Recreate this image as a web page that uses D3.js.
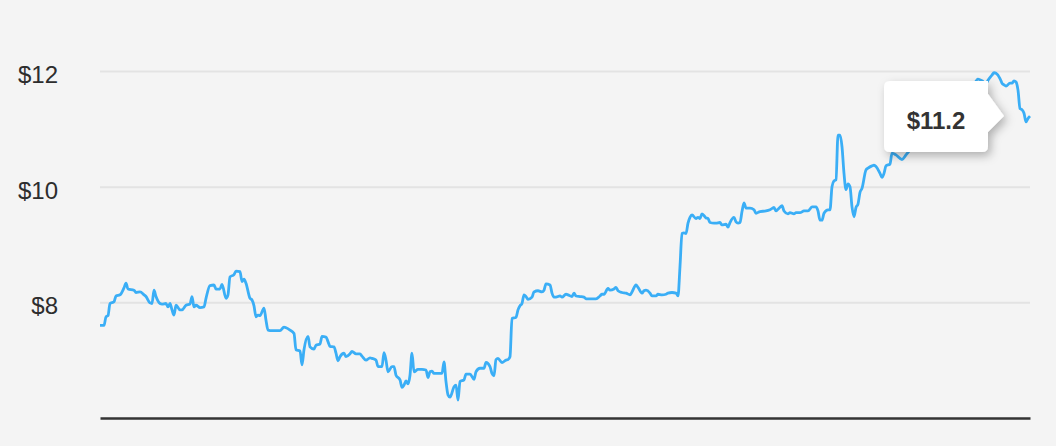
<!DOCTYPE html>
<html>
<head>
<meta charset="utf-8">
<script src="https://cdn.jsdelivr.net/npm/d3@7"></script>
<style>
  html, body { margin: 0; padding: 0; background: #f4f4f4; }
  svg { display: block; font-family: "Liberation Sans", Arial, Helvetica, sans-serif; }
</style>
</head>
<body>
<script>
// trading day index and closing price
var days = [0,2,3,4,5,7,8,10,12,13,14,17,18,20,22,23,25,26,27,28,30,31,33,34,35,36,37,38,40,41,43,45,46,47,48,50,52,53,55,57,58,60,61,63,64,65,67,68,70,71,72,73,75,76,77,78,79,80,82,83,84,86,90,92,93,95,
  97,98,100,101,102,104,105,107,108,110,111,113,114,115,117,118,119,120,122,123,125,126,128,130,131,133,135,136,138,139,141,142,143,144,146,147,148,150,151,152,153,154,155,156,157,159,161,163,164,165,166,167,169,171,172,173,174,175,177,178,179,180,182,183,185,187,188,190,
  192,193,195,196,197,198,199,201,203,204,205,206,208,209,210,211,212,213,214,216,217,219,221,222,223,225,226,227,228,230,231,233,234,236,237,238,240,242,243,246,248,250,251,252,254,255,257,258,259,261,263,265,266,268,269,271,272,273,275,276,278,279,281,283,
  284,286,288,289,290,291,292,293,294,295,296,298,299,300,301,303,304,305,307,308,310,311,313,314,315,317,318,319,320,321,322,323,325,327,328,330,333,335,337,338,339,341,342,344,345,347,348,350,352,354,356,358,359,360,361,362,364,365,366,367,368,369,370,371,372,373,374,375,376,377,378,379,380,
  381,383,384,386,387,388,390,391,392,393,395,396,398,401,403,406,409,412,415,418,421,424,427,430,433,436,439,441,443,444,446,447,448,450,451,452,453,455,456,457,458,459,460,461,462,463,464,465];
var prices = [7.60,7.60,7.75,7.77,7.98,8.01,8.11,8.13,8.25,8.33,8.23,8.21,8.17,8.18,8.13,8.10,7.99,7.98,8.21,8.10,7.98,7.97,7.98,7.92,7.98,7.87,7.78,7.95,7.87,7.87,7.95,7.97,8.10,7.92,7.95,7.91,7.92,8.07,8.29,8.30,8.23,8.23,8.31,8.07,8.13,8.44,8.48,8.54,8.53,8.36,8.40,8.33,8.07,8.04,7.94,7.75,7.78,7.77,7.90,7.69,7.52,7.51,7.51,7.57,7.56,7.52,
  7.46,7.18,7.16,6.92,7.18,7.41,7.23,7.19,7.26,7.28,7.41,7.40,7.32,7.24,7.23,7.12,6.99,7.06,7.12,7.06,7.11,7.15,7.11,7.11,7.07,7.00,7.04,7.03,7.00,6.89,6.89,7.13,7.00,6.80,6.89,6.89,6.74,6.66,6.53,6.57,6.64,6.59,6.74,7.12,6.80,6.84,6.84,6.83,6.70,6.80,6.81,6.77,6.77,6.77,6.97,6.63,6.40,6.36,6.54,6.57,6.31,6.63,6.66,6.76,6.76,6.67,6.80,6.86,
  6.86,6.96,6.89,6.77,6.73,7.01,7.03,6.96,7.00,7.01,7.06,7.72,7.74,7.87,7.94,7.98,8.13,8.10,8.05,8.09,8.18,8.20,8.18,8.21,8.32,8.30,8.16,8.09,8.09,8.11,8.09,8.14,8.13,8.10,8.16,8.11,8.10,8.09,8.06,8.06,8.06,8.11,8.14,8.14,8.24,8.21,8.23,8.26,8.20,8.17,8.16,8.13,8.18,8.30,8.26,8.16,8.20,8.21,8.16,8.11,8.11,8.14,8.13,8.14,
  8.16,8.17,8.16,8.11,8.62,9.19,9.20,9.19,9.37,9.47,9.51,9.45,9.47,9.45,9.53,9.46,9.45,9.38,9.37,9.37,9.38,9.34,9.35,9.30,9.38,9.47,9.39,9.37,9.38,9.57,9.72,9.63,9.63,9.60,9.54,9.57,9.58,9.60,9.64,9.58,9.61,9.67,9.58,9.53,9.55,9.53,9.55,9.55,9.58,9.58,9.65,9.65,9.58,9.42,9.42,9.54,9.60,9.60,10.00,10.10,10.12,10.89,10.89,10.69,10.23,9.95,10.05,10.00,9.65,9.48,9.64,9.70,9.90,
  9.97,10.29,10.32,10.36,10.37,10.35,10.23,10.16,10.23,10.36,10.39,10.58,10.55,10.47,10.55,10.68,10.82,10.95,11.08,11.02,11.20,11.35,11.30,11.50,11.62,11.70,11.86,11.83,11.78,11.84,11.93,11.97,11.96,11.87,11.79,11.76,11.74,11.79,11.79,11.83,11.81,11.67,11.35,11.33,11.27,11.12,11.18,11.22];
var yTicks = [8, 10, 12];

var w = 1056, h = 446;
var mLeft = 100, mRight = 1030, mBottom = 418, mTop = 71;

var data = days.map(function(d, i) { return {day: d, price: prices[i]}; });

var x = d3.scaleLinear().domain([0, d3.max(days)]).range([mLeft, mRight]);
var y = d3.scaleLinear().domain([6, 12]).range([mBottom, mTop]);

var svg = d3.select("body")
    .append("svg")
    .attr("width", w)
    .attr("height", h);

var defs = svg.append("defs");
var shadow = defs.append("filter")
    .attr("id", "shadow")
    .attr("x", "-30%").attr("y", "-30%")
    .attr("width", "160%").attr("height", "170%");
shadow.append("feDropShadow")
    .attr("dx", 3).attr("dy", 4)
    .attr("stdDeviation", 5)
    .attr("flood-color", "#000")
    .attr("flood-opacity", 0.28);

// grid + y labels
var yAxis = d3.axisLeft(y)
    .tickValues(yTicks)
    .tickSize(-(mRight - mLeft))
    .tickPadding(42)
    .tickFormat(function(d) { return "$" + d; });

var gy = svg.append("g")
    .attr("transform", "translate(" + mLeft + ",0)")
    .call(yAxis);
gy.select(".domain").remove();
gy.selectAll(".tick line")
    .attr("stroke", "#e3e3e3")
    .attr("stroke-width", 2);
gy.selectAll(".tick text")
    .attr("fill", "#2d2d2d")
    .attr("font-size", 24)
    .attr("dy", "0.48em");

// bottom axis
var xAxis = d3.axisBottom(x).tickValues([]).tickSizeOuter(0);
var gx = svg.append("g")
    .attr("transform", "translate(0," + mBottom + ")")
    .call(xAxis);
gx.select(".domain")
    .attr("stroke", "#333")
    .attr("stroke-width", 2.5);

// price line
var line = d3.line()
    .x(function(d) { return x(d.day); })
    .y(function(d) { return y(d.price); })
    .curve(d3.curveMonotoneX);

svg.append("path")
    .datum(data)
    .attr("fill", "none")
    .attr("stroke", "#3aaef6")
    .attr("stroke-width", 2.8)
    .attr("stroke-linejoin", "round")
    .attr("d", line);

// tooltip for the latest price
var last = data[data.length - 1];
var tipX = x(last.day) - 26, tipY = y(last.price);
var bw = 104, bh = 71;
var bx = tipX - 16 - bw, by = tipY - 35;

var tip = svg.append("g").attr("filter", "url(#shadow)");
tip.append("path")
    .attr("fill", "#fff")
    .attr("d", "M" + (bx + 6) + "," + by +
        "H" + (bx + bw) +
        "V" + (tipY - 22) +
        "L" + tipX + "," + tipY +
        "L" + (bx + bw) + "," + (tipY + 16) +
        "V" + (by + bh - 6) +
        "Q" + (bx + bw) + "," + (by + bh) + " " + (bx + bw - 6) + "," + (by + bh) +
        "H" + (bx + 6) +
        "Q" + bx + "," + (by + bh) + " " + bx + "," + (by + bh - 6) +
        "V" + (by + 6) +
        "Q" + bx + "," + by + " " + (bx + 6) + "," + by + "Z");

svg.append("text")
    .attr("x", bx + bw / 2)
    .attr("y", by + 48)
    .attr("text-anchor", "middle")
    .attr("font-size", 24)
    .attr("font-weight", "bold")
    .attr("fill", "#333")
    .text("$" + d3.format(".1f")(last.price));
</script>
</body>
</html>
